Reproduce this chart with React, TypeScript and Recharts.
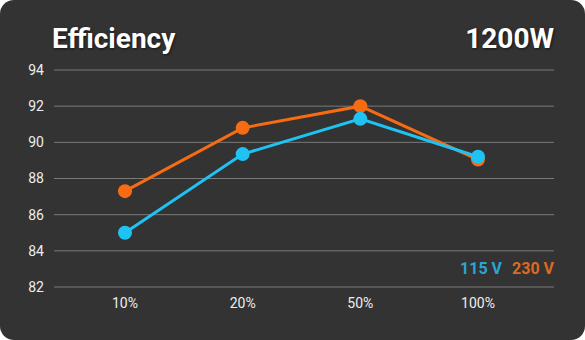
import React from "react";
import { LineChart, Line, XAxis, YAxis, CartesianGrid } from "recharts";

const categories = ["10%", "20%", "50%", "100%"];
const v115 = [85.0, 89.35, 91.3, 89.2];
const v230 = [87.3, 90.8, 92.0, 89.05];
const yTicks = [82, 84, 86, 88, 90, 92, 94];
const seriesNames = ["115 V", "230 V"];

const data = categories.map((c, i) => ({ cat: c, a: v115[i], b: v230[i] }));

const C115 = "#1fc3f3";
const C230 = "#f76c12";
const FONT = "Roboto, sans-serif";

export default function App() {
  return (
    <div style={{ position: "absolute", left: 0, top: 0, width: 585, height: 340, background: "#fff" }}>
      <div style={{ position: "absolute", left: 0, top: 0, width: 585, height: 340, background: "#333333", borderRadius: 14, overflow: "hidden" }}>
        <div style={{ position: "absolute", left: 52, top: 22, lineHeight: "34px", color: "#fff", fontFamily: FONT, fontWeight: 700, fontSize: 28, textShadow: "1px 1px 3px rgba(0,0,0,0.6)" }}>Efficiency</div>
        <div style={{ position: "absolute", right: 31, top: 22, lineHeight: "34px", color: "#fff", fontFamily: FONT, fontWeight: 700, fontSize: 28, textShadow: "1px 1px 3px rgba(0,0,0,0.6)" }}>1200W</div>
        <LineChart width={585} height={340} data={data} margin={{ top: 70, right: 31, bottom: 23, left: 0 }}>
          <CartesianGrid horizontal vertical={false} stroke="#7a7a7a" strokeWidth={1} />
          <XAxis dataKey="cat" height={30} axisLine={false} tickLine={false} padding={{ left: 71, right: 76 }} tick={{ fill: "#eeeeee", fontSize: 14, fontFamily: FONT }} tickMargin={5} />
          <YAxis domain={[82, 94]} ticks={yTicks} axisLine={false} tickLine={false} width={54} tick={{ fill: "#eeeeee", fontSize: 14, fontFamily: FONT }} tickMargin={4} />
          <Line dataKey="b" name={seriesNames[1]} stroke={C230} strokeWidth={3} dot={{ r: 7, fill: C230, stroke: "none" }} activeDot={false} isAnimationActive={false} />
          <Line dataKey="a" name={seriesNames[0]} stroke={C115} strokeWidth={3} dot={{ r: 7, fill: C115, stroke: "none" }} activeDot={false} isAnimationActive={false} />
        </LineChart>
        <div style={{ position: "absolute", right: 31, top: 259, lineHeight: "20px", display: "flex", gap: 10, fontFamily: FONT, fontWeight: 700, fontSize: 16 }}>
          <span style={{ color: "#2aa6d3" }}>{seriesNames[0]}</span>
          <span style={{ color: "#dc6a22" }}>{seriesNames[1]}</span>
        </div>
      </div>
    </div>
  );
}
